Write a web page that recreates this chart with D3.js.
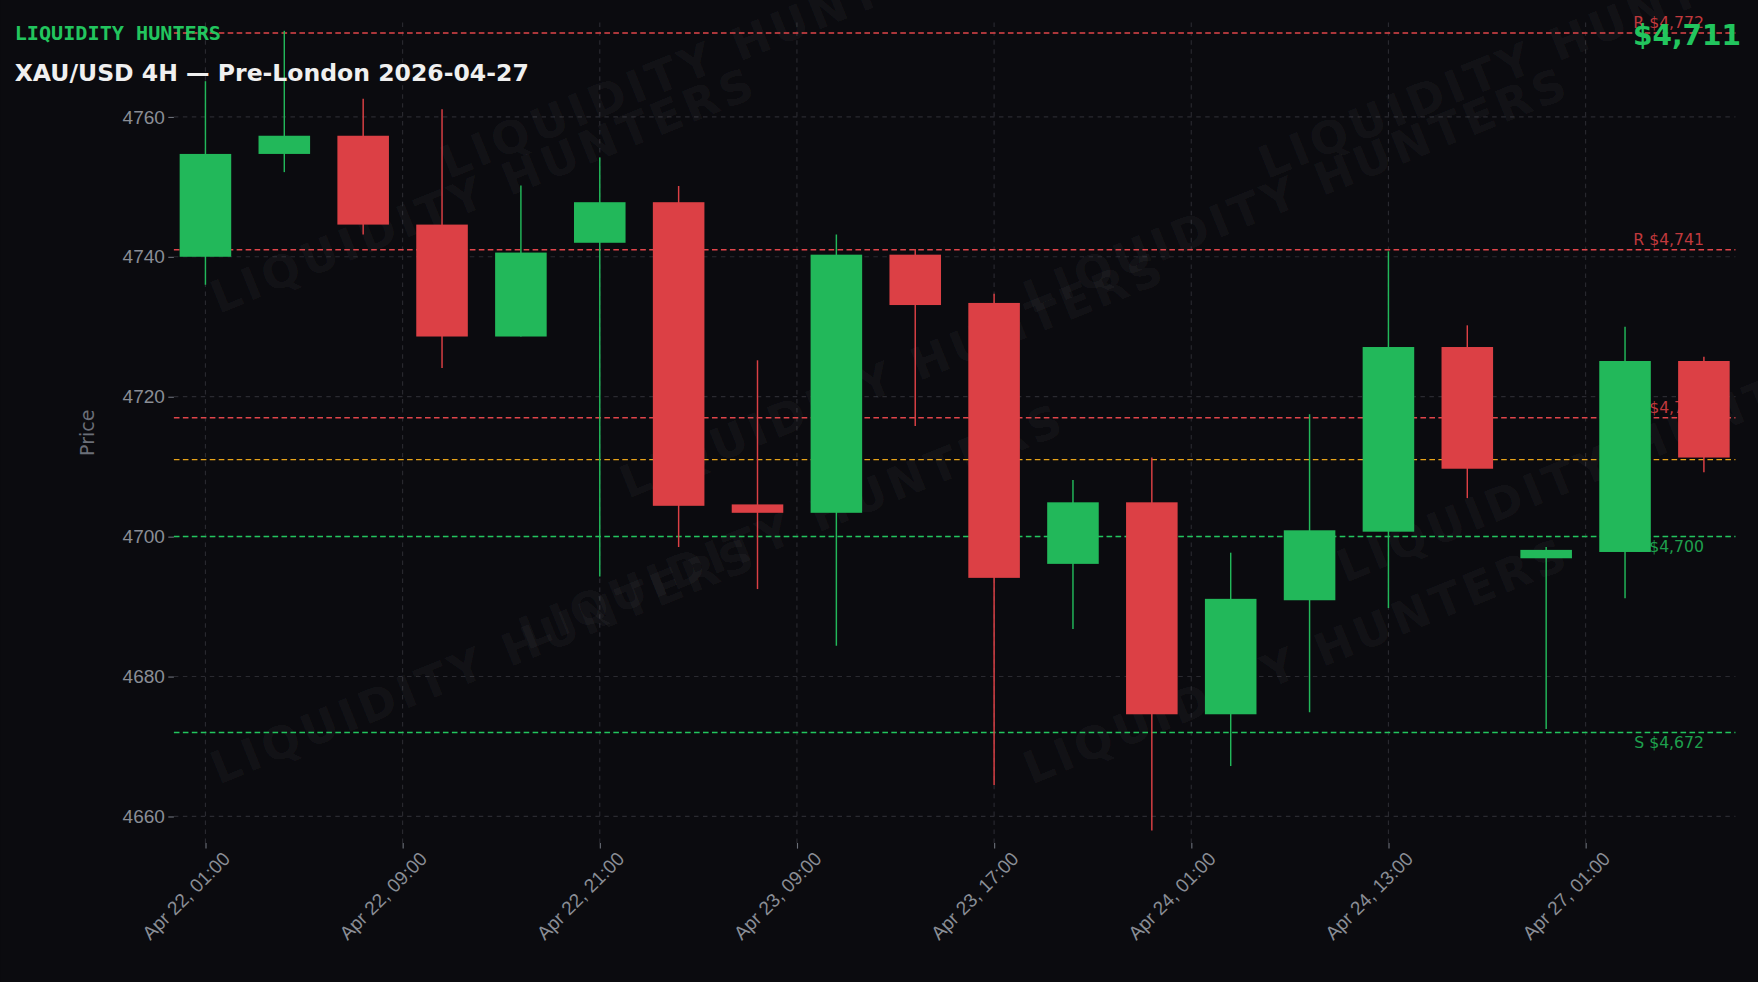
<!DOCTYPE html>
<html><head><meta charset="utf-8">
<script src="https://cdn.jsdelivr.net/npm/d3@7"></script>
<style>body{margin:0;background:#0b0b0f;}</style>
</head><body>
<script>
// candle data, 4H bars
const opens  = [4740,4754.7,4757.3,4744.6,4728.6,4742.0,4747.8,4704.6,4703.4,4740.3,4733.4,4696.1,4704.9,4674.6,4690.9,4700.7,4727.1,4696.9,4697.8,4725.1];
const closes = [4754.7,4757.3,4744.6,4728.6,4740.6,4747.8,4704.4,4703.4,4740.3,4733.1,4694.1,4704.9,4674.6,4691.1,4700.9,4727.1,4709.7,4698.1,4725.1,4711.3];
const highs  = [4765.1,4772.3,4762.6,4761.1,4750.2,4754.2,4750.1,4725.2,4743.2,4741.1,4734.7,4708.1,4711.3,4697.7,4717.5,4740.8,4730.2,4698.5,4730,4725.7];
const lows   = [4736,4752.1,4743.2,4724.1,4728.6,4694.3,4698.5,4692.5,4684.4,4715.8,4664.5,4686.8,4658,4667.2,4674.9,4689.8,4705.5,4672.5,4691.2,4709.2];
const tickPos = [0,2.5,5,7.5,10,12.5,15,17.5];
const tickLabels = ["Apr 22, 01:00","Apr 22, 09:00","Apr 22, 21:00","Apr 23, 09:00","Apr 23, 17:00","Apr 24, 01:00","Apr 24, 13:00","Apr 27, 01:00"];
const levels = [4772,4741,4717,4711,4700,4672];
const levelKinds = ["R","R","R","P","S","S"];
const yTicks = [4660,4680,4700,4720,4740,4760];

const W = 1568, H = 876;
const padL = 155, padR = 1548, padT = 20, padB = 752;
const green = "#22b85a", red = "#dc4045";

const svg = d3.select("body").append("svg")
    .attr("width", 1758).attr("height", 982)
    .attr("viewBox", `0 0 ${W} ${H}`)
    .style("font-family", "DejaVu Sans, sans-serif");
svg.append("rect").attr("width", W).attr("height", H).attr("fill", "#0b0b0f");

let x = d3.scaleLinear().domain([-0.4, 19.4]).range([padL, padR]);
let y = d3.scaleLinear().domain([4656.2, 4773.5]).range([padB, padT]);

// grid
svg.append("g").selectAll("line").data(yTicks).join("line")
    .attr("x1", padL).attr("x2", padR)
    .attr("y1", d => y(d)).attr("y2", d => y(d))
    .attr("stroke", "#2a2a30").attr("stroke-dasharray", "4,4");
svg.append("g").selectAll("line").data(tickPos).join("line")
    .attr("x1", d => x(d)).attr("x2", d => x(d))
    .attr("y1", padT).attr("y2", padB)
    .attr("stroke", "#2a2a30").attr("stroke-dasharray", "4,4");

// watermarks
const wm = [[195,280],[195,700],[560,445],[920,280],[920,700],[400,160],[1130,160],[470,580],[1200,520]];
svg.append("g").selectAll("text").data(wm).join("text")
    .attr("transform", d => `translate(${d[0]},${d[1]}) rotate(-22)`)
    .attr("fill", "#ffffff").attr("fill-opacity", 0.05)
    .attr("font-size", 40).attr("font-weight", "bold").attr("letter-spacing", 4)
    .text("LIQUIDITY HUNTERS");

// axes
const yAxis = svg.append("g").attr("transform", `translate(${padL},0)`)
    .call(d3.axisLeft(y).tickValues(yTicks).tickSize(5).tickFormat(d3.format("d")));
const xAxis = svg.append("g").attr("transform", `translate(0,${padB})`)
    .call(d3.axisBottom(x).tickValues(tickPos).tickSize(5).tickFormat((d, i) => tickLabels[i]));
[yAxis, xAxis].forEach(a => {
    a.select(".domain").remove();
    a.selectAll("line").attr("stroke", "#6b6f78");
    a.selectAll("text").attr("fill", "#8a8e96").attr("font-size", 17);
});
xAxis.selectAll("text")
    .attr("text-anchor", "end").attr("dx", "0.3em").attr("dy", "1.1em")
    .attr("transform", "rotate(-45)");
svg.append("text").attr("transform", `translate(84,386) rotate(-90)`)
    .attr("text-anchor", "middle").attr("fill", "#6b6f78").attr("font-size", 17).text("Price");

// key levels
const lvl = svg.append("g");
levels.forEach((v, i) => {
    const k = levelKinds[i];
    const col = k === "R" ? "#e0454a" : k === "S" ? "#22c55e" : "#e8a319";
    lvl.append("line").attr("x1", padL).attr("x2", padR)
        .attr("y1", y(v)).attr("y2", y(v))
        .attr("stroke", col).attr("stroke-width", 1.3).attr("stroke-dasharray", "5,3");
    if (k !== "P") {
        lvl.append("text").attr("x", 1520).attr("y", y(v) + (k === "R" ? -4 : 14))
            .attr("text-anchor", "end").attr("font-size", 14)
            .attr("fill", k === "R" ? "#c0393d" : "#1ea04d")
            .text(`${k} $${d3.format(",")(v)}`);
    }
});

// candles
const idx = d3.range(opens.length);
const bw = 46;
const c = svg.append("g").selectAll("g").data(idx).join("g");
c.append("line")
    .attr("x1", i => x(i)).attr("x2", i => x(i))
    .attr("y1", i => y(highs[i])).attr("y2", i => y(lows[i]))
    .attr("stroke", i => closes[i] >= opens[i] ? green : red).attr("stroke-width", 1.3);
c.append("rect")
    .attr("x", i => x(i) - bw / 2).attr("width", bw)
    .attr("y", i => y(Math.max(opens[i], closes[i])))
    .attr("height", i => Math.max(1.5, Math.abs(y(opens[i]) - y(closes[i]))))
    .attr("fill", i => closes[i] >= opens[i] ? green : red);

// titles
svg.append("text").attr("x", 13).attr("y", 36).attr("fill", "#22c55e")
    .attr("font-size", 18).attr("font-weight", "bold")
    .attr("font-family", "DejaVu Sans Mono, monospace").text("LIQUIDITY HUNTERS");
svg.append("text").attr("x", 13).attr("y", 72).attr("fill", "#f0f0f0")
    .attr("font-size", 21).attr("font-weight", "bold").text("XAU/USD 4H — Pre-London 2026-04-27");
svg.append("text").attr("x", 1553).attr("y", 40).attr("text-anchor", "end")
    .attr("fill", "#22c55e").attr("font-size", 25).attr("font-weight", "bold").text("$4,711");
</script>
</body></html>
